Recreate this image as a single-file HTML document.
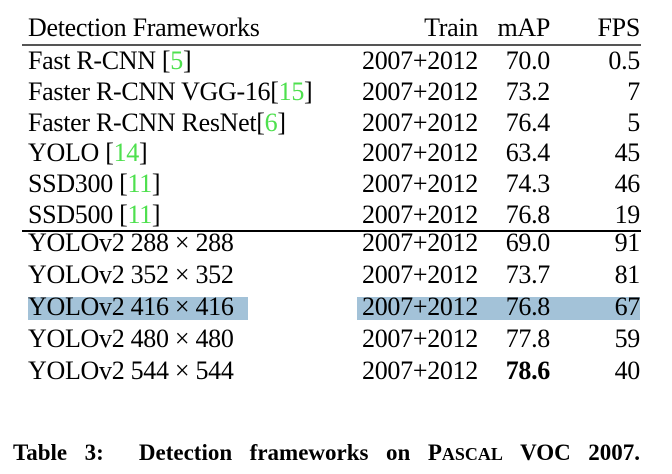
<!DOCTYPE html>
<html><head><meta charset="utf-8"><style>
body{margin:0;width:672px;height:474px;background:#fff;font-family:"Liberation Serif",serif;color:#000;position:relative;overflow:hidden}
.t{position:absolute;font-size:26px;line-height:31px;white-space:nowrap;letter-spacing:-0.3px}
.r{text-align:right}
.g{color:#4ee04e}
.rule{position:absolute;left:22px;width:619px;height:1.5px;background:#000}
.hl{position:absolute;background:#a3c2d8}
</style></head><body>
<div class="rule" style="top:44px;background:#555"></div>
<div class="rule" style="top:230px"></div>
<div class="hl" style="left:28px;top:297px;width:220px;height:23px"></div>
<div class="hl" style="left:357px;top:297px;width:283px;height:23px"></div>
<div id="tbl"></div>
<div class="t" style="left:13px;top:437px;width:627px;font-weight:bold;font-size:23px;letter-spacing:0;text-align:justify;text-align-last:justify">Table 3: &nbsp;Detection frameworks on P<span style="font-size:18px">ASCAL</span> VOC 2007.</div>
<script>
const names=['Fast R-CNN [<span class="g">5</span>]','Faster R-CNN VGG-16[<span class="g">15</span>]','Faster R-CNN ResNet[<span class="g">6</span>]','YOLO [<span class="g">14</span>]','SSD300 [<span class="g">11</span>]','SSD500 [<span class="g">11</span>]','YOLOv2 288 × 288','YOLOv2 352 × 352','YOLOv2 416 × 416','YOLOv2 480 × 480','YOLOv2 544 × 544'];
const train=['2007+2012','2007+2012','2007+2012','2007+2012','2007+2012','2007+2012','2007+2012','2007+2012','2007+2012','2007+2012','2007+2012'];
const mAP=['70.0','73.2','76.4','63.4','74.3','76.8','69.0','73.7','76.8','77.8','78.6'];
const fps=['0.5','7','5','45','46','19','91','81','67','59','40'];
const tbl=document.getElementById('tbl');
function cell(html,left,top,right,name){
  const d=document.createElement('div');
  d.className='t'+(right?' r':'');
  if(right){d.style.right=(672-left)+'px';}else{d.style.left=left+'px';}
  d.style.top=top+'px';
  d.innerHTML=html;
  
  
  tbl.appendChild(d);
  return d;
}
cell('Detection Frameworks',28,12,false,'header-frameworks');
cell('Train',478,12,true,'header-train');
cell('mAP',550,12,true,'header-map');
cell('FPS',640,12,true,'header-fps');
const best=Math.max(...mAP.map(Number));
for(let i=0;i<names.length;i++){
  const top=i<6?45+i*30.8:227+(i-6)*32;
  cell(names[i],28,top,false,'row-name');
  cell(train[i],478,top,true,'row-train');
  const m=cell(mAP[i],550,top,true,'row-map');
  if(Number(mAP[i])===best)m.style.fontWeight='bold';
  cell(fps[i],640,top,true,'row-fps');
}
</script>
</body></html>
